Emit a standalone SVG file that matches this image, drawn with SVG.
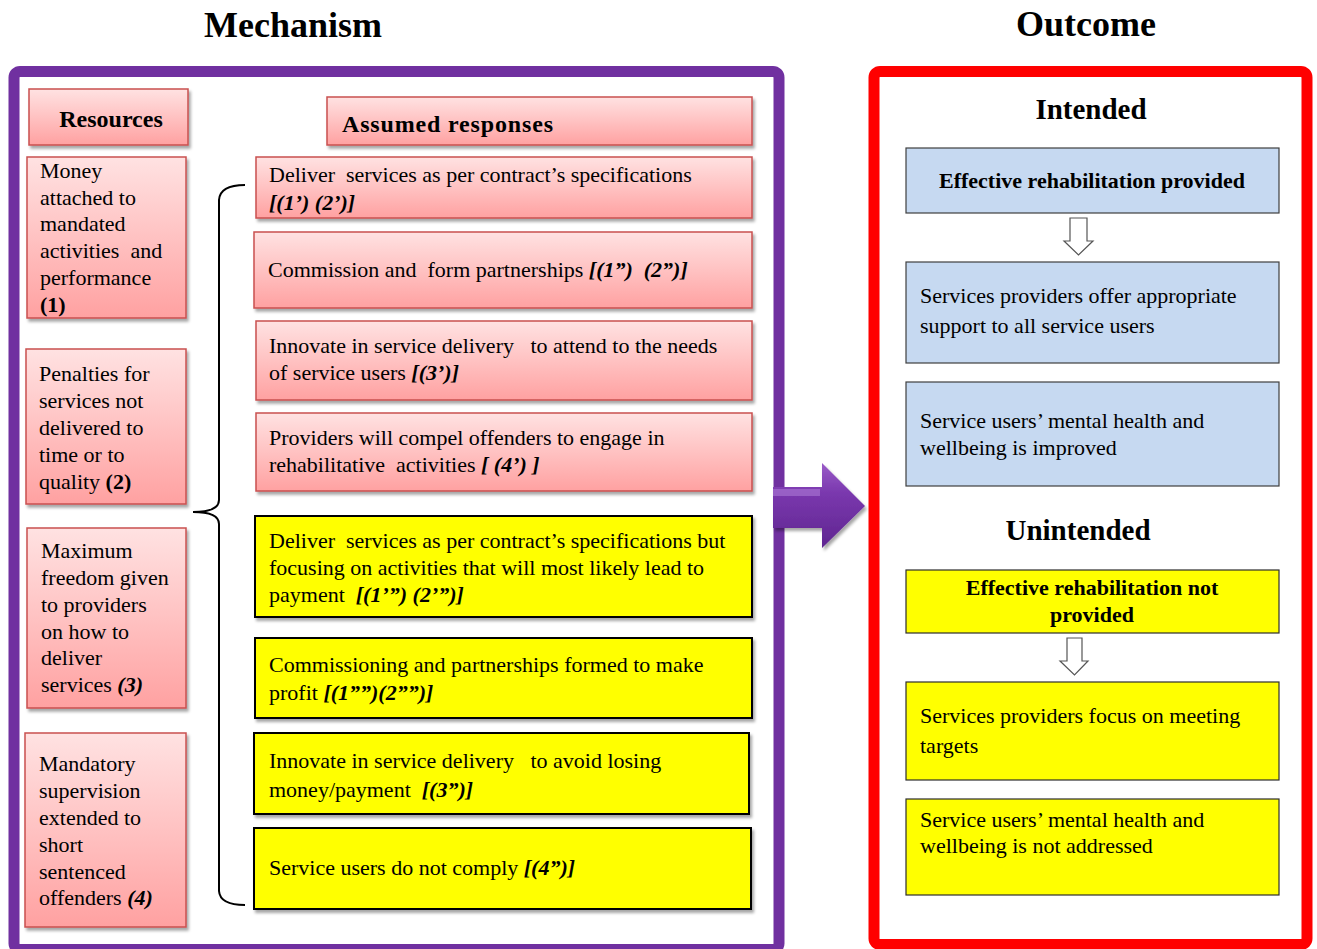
<svg xmlns="http://www.w3.org/2000/svg" width="1317" height="949" viewBox="0 0 1317 949">
  <style>
    .t{font-family:"Liberation Serif","Times New Roman",serif;font-size:22px;fill:#000}
    .b{font-weight:bold}
    .bi{font-weight:bold;font-style:italic}
    .title{font-family:"Liberation Serif","Times New Roman",serif;font-weight:bold;font-size:36px;fill:#000}
    .sub{font-family:"Liberation Serif","Times New Roman",serif;font-weight:bold;font-size:29px;fill:#000}
    .pink{fill:url(#pinkGrad);stroke:#C9504F;stroke-width:1.5;filter:url(#shadow)}
    .yel{fill:#FFFF00;stroke:#000;stroke-width:2;filter:url(#shadow)}
    .blue{fill:#C6D9F1;stroke:#3F3F3F;stroke-width:1.2}
    .oyel{fill:#FFFF00;stroke:#2E2E2E;stroke-width:1.2}
    .hollow{fill:#fff;stroke:#555;stroke-width:1.2}
    .brace{fill:none;stroke:#000;stroke-width:2}
  </style>
  <defs>
    <linearGradient id="pinkGrad" x1="0" y1="0" x2="0" y2="1">
      <stop offset="0" stop-color="#FFE2E2"/>
      <stop offset="0.5" stop-color="#FFC2C2"/>
      <stop offset="1" stop-color="#FFA1A1"/>
    </linearGradient>
    <linearGradient id="arrowGrad" x1="0" y1="0" x2="0" y2="1">
      <stop offset="0" stop-color="#9A5CC8"/>
      <stop offset="0.35" stop-color="#7A38AE"/>
      <stop offset="1" stop-color="#5F2590"/>
    </linearGradient>
    <filter id="shadow" x="-5%" y="-10%" width="112%" height="130%">
      <feDropShadow dx="2" dy="3" stdDeviation="1.5" flood-color="#000" flood-opacity="0.35"/>
    </filter>
  </defs>

  <rect width="1317" height="949" fill="#fff"/>

  <!-- headings -->
  <text class="title" x="293" y="37" text-anchor="middle">Mechanism</text>
  <text class="title" x="1086" y="36" text-anchor="middle">Outcome</text>

  <!-- frames -->
  <rect id="mechanism-frame" x="14" y="71.5" width="765" height="878" rx="6" fill="none" stroke="#7030A0" stroke-width="11"/>
  <rect id="outcome-frame" x="874" y="71.5" width="433" height="873" rx="6" fill="none" stroke="#FF0000" stroke-width="11"/>

  <!-- resources column -->
  <g id="resources-header">
    <rect class="pink" x="29" y="89" width="159" height="56"/>
    <text class="t b" x="111" y="127" text-anchor="middle" style="font-size:24px">Resources</text>
  </g>
  <g id="res-money">
    <rect class="pink" x="27" y="157" width="159" height="161"/>
    <text class="t" x="40" y="178">Money</text>
    <text class="t" x="40" y="205">attached to</text>
    <text class="t" x="40" y="231">mandated</text>
    <text class="t" x="40" y="258" xml:space="preserve">activities  and</text>
    <text class="t" x="40" y="285">performance</text>
    <text class="t b" x="40" y="312">(1)</text>
  </g>
  <g id="res-penalties">
    <rect class="pink" x="26" y="349" width="160" height="155"/>
    <text class="t" x="39" y="381">Penalties for</text>
    <text class="t" x="39" y="408">services not</text>
    <text class="t" x="39" y="435">delivered to</text>
    <text class="t" x="39" y="462">time or to</text>
    <text class="t" x="39" y="489">quality <tspan class="b">(2)</tspan></text>
  </g>
  <g id="res-freedom">
    <rect class="pink" x="27" y="528" width="159" height="180"/>
    <text class="t" x="41" y="558">Maximum</text>
    <text class="t" x="41" y="585">freedom given</text>
    <text class="t" x="41" y="612">to providers</text>
    <text class="t" x="41" y="639">on how to</text>
    <text class="t" x="41" y="665">deliver</text>
    <text class="t" x="41" y="692">services <tspan class="bi">(3)</tspan></text>
  </g>
  <g id="res-supervision">
    <rect class="pink" x="25" y="733" width="161" height="194"/>
    <text class="t" x="39" y="771">Mandatory</text>
    <text class="t" x="39" y="798">supervision</text>
    <text class="t" x="39" y="825">extended to</text>
    <text class="t" x="39" y="852">short</text>
    <text class="t" x="39" y="879">sentenced</text>
    <text class="t" x="39" y="905">offenders <tspan class="bi">(4)</tspan></text>
  </g>

  <!-- connectors -->
  <g id="connectors">
    <path class="brace" d="M245 185 Q220 185 219 200 L219 500 Q219 512 193 512 Q219 512 219 524 L219 891 Q220 905 245 905"/>
    <g id="main-arrow" filter="url(#shadow)">
      <path d="M773 487 L822 487 L822 463 L865 506 L822 548 L822 528 L773 528 Z" fill="url(#arrowGrad)"/>
      <path d="M773 489 L820 489 L820 496 L773 496 Z" fill="#B07FD8" opacity="0.55"/>
    </g>
    <polygon class="hollow" points="1070,218 1087,218 1087,241 1093,241 1078.5,255 1064,241 1070,241"/>
    <polygon class="hollow" points="1067,638 1082,638 1082,661 1088,661 1074.5,675 1060,661 1067,661"/>
  </g>

  <!-- assumed responses column -->
  <g id="responses-header">
    <rect class="pink" x="327" y="97" width="425" height="48"/>
    <text class="t b" x="342" y="132" style="font-size:24px" textLength="211">Assumed responses</text>
  </g>
  <g id="resp-deliver">
    <rect class="pink" x="256" y="157" width="496" height="61"/>
    <text class="t" x="269" y="182" xml:space="preserve">Deliver  services as per contract’s specifications</text>
    <text class="t bi" x="269" y="210">[(1’) (2’)]</text>
  </g>
  <g id="resp-commission">
    <rect class="pink" x="254" y="232" width="498" height="76"/>
    <text class="t" x="268" y="277" xml:space="preserve">Commission and  form partnerships <tspan class="bi">[(1”)  (2”)]</tspan></text>
  </g>
  <g id="resp-innovate">
    <rect class="pink" x="256" y="321" width="496" height="79"/>
    <text class="t" x="269" y="353" xml:space="preserve">Innovate in service delivery   to attend to the needs</text>
    <text class="t" x="269" y="380">of service users <tspan class="bi">[(3’)]</tspan></text>
  </g>
  <g id="resp-compel">
    <rect class="pink" x="256" y="413" width="496" height="78"/>
    <text class="t" x="269" y="445">Providers will compel offenders to engage in</text>
    <text class="t" x="269" y="472" xml:space="preserve">rehabilitative  activities <tspan class="bi">[ (4’) ]</tspan></text>
  </g>
  <g id="resp-payment">
    <rect class="yel" x="255" y="516" width="497" height="101"/>
    <text class="t" x="269" y="548" xml:space="preserve">Deliver  services as per contract’s specifications but</text>
    <text class="t" x="269" y="575">focusing on activities that will most likely lead to</text>
    <text class="t" x="269" y="602" xml:space="preserve">payment  <tspan class="bi">[(1’”) (2’”)]</tspan></text>
  </g>
  <g id="resp-profit">
    <rect class="yel" x="255" y="638" width="497" height="80"/>
    <text class="t" x="269" y="672">Commissioning and partnerships formed to make</text>
    <text class="t" x="269" y="700">profit <tspan class="bi">[(1””)(2””)]</tspan></text>
  </g>
  <g id="resp-avoid-loss">
    <rect class="yel" x="254" y="733" width="495" height="81"/>
    <text class="t" x="269" y="768" xml:space="preserve">Innovate in service delivery   to avoid losing</text>
    <text class="t" x="269" y="797" xml:space="preserve">money/payment  <tspan class="bi">[(3”)]</tspan></text>
  </g>
  <g id="resp-noncomply">
    <rect class="yel" x="254" y="828" width="497" height="81"/>
    <text class="t" x="269" y="875">Service users do not comply <tspan class="bi">[(4”)]</tspan></text>
  </g>

  <!-- outcome column -->
  <text class="sub" x="1091" y="119" text-anchor="middle">Intended</text>
  <g id="out-effective">
    <rect class="blue" x="906" y="148" width="373" height="65"/>
    <text class="t b" x="1092" y="188" text-anchor="middle">Effective rehabilitation provided</text>
  </g>
  <g id="out-support">
    <rect class="blue" x="906" y="262" width="373" height="101"/>
    <text class="t" x="920" y="303">Services providers offer appropriate</text>
    <text class="t" x="920" y="333">support to all service users</text>
  </g>
  <g id="out-wellbeing">
    <rect class="blue" x="906" y="382" width="373" height="104"/>
    <text class="t" x="920" y="428">Service users’ mental health and</text>
    <text class="t" x="920" y="455">wellbeing is improved</text>
  </g>

  <text class="sub" x="1078" y="540" text-anchor="middle">Unintended</text>
  <g id="out-not-effective">
    <rect class="oyel" x="906" y="570" width="373" height="63"/>
    <text class="t b" x="1092" y="595" text-anchor="middle">Effective rehabilitation not</text>
    <text class="t b" x="1092" y="622" text-anchor="middle">provided</text>
  </g>
  <g id="out-targets">
    <rect class="oyel" x="906" y="682" width="373" height="98"/>
    <text class="t" x="920" y="723">Services providers focus on meeting</text>
    <text class="t" x="920" y="753">targets</text>
  </g>
  <g id="out-not-addressed">
    <rect class="oyel" x="906" y="799" width="373" height="96"/>
    <text class="t" x="920" y="827">Service users’ mental health and</text>
    <text class="t" x="920" y="853">wellbeing is not addressed</text>
  </g>
</svg>
